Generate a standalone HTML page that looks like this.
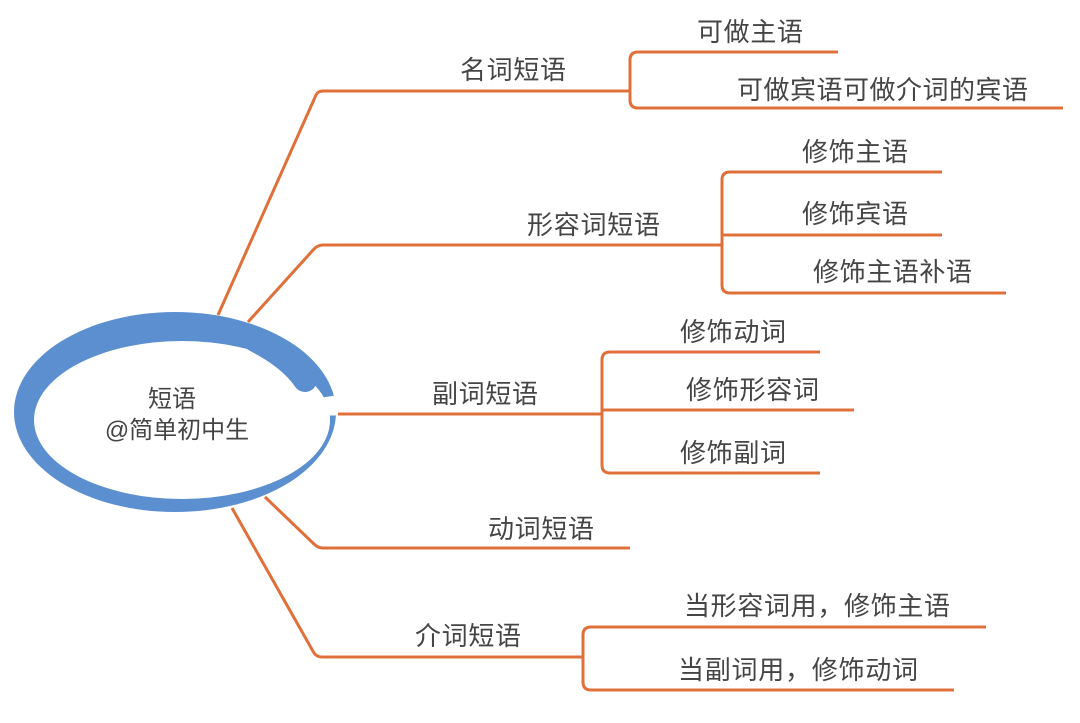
<!DOCTYPE html>
<html><head><meta charset="utf-8"><style>
html,body{margin:0;padding:0;background:#fff;}
svg text{font-family:"Liberation Sans","Noto Sans CJK SC",sans-serif;fill:#454545;}
</style></head><body>
<svg width="1080" height="718" viewBox="0 0 1080 718" xmlns="http://www.w3.org/2000/svg">
<ellipse cx="175" cy="412" rx="161" ry="100" fill="#5b8fd0"/>
<ellipse cx="182" cy="420" rx="148" ry="79" fill="#fff"/>
<polygon points="184,418 420,383 420,414" fill="#fff"/>
<path d="M255,340 Q290,358 305,380" fill="none" stroke="#5b8fd0" stroke-width="24" stroke-linecap="round"/>
<g fill="none" stroke="#e0703a" stroke-width="3" stroke-linejoin="round">
<path d="M218,315 L316,95 Q318,91 323,91 L630,91"/>
<path d="M838,52 L638,52 Q630,52 630,60 L630,100 Q630,108 638,108 L1063,108"/>
<path d="M248,322 L314,249 Q318,245 323,245 L722,245"/>
<path d="M942,172 L730,172 Q722,172 722,180 L722,285 Q722,293 730,293 L1006,293"/>
<path d="M722,235 L942,235"/>
<path d="M338,414 L602,414"/>
<path d="M820,352 L610,352 Q602,352 602,360 L602,465 Q602,473 610,473 L820,473"/>
<path d="M602,410 L854,410"/>
<path d="M265,497 L314,544 Q318,548 323,548 L630,548"/>
<path d="M232,508 L314,653 Q317,657 322,657 L583,657"/>
<path d="M986,627 L591,627 Q583,627 583,635 L583,682 Q583,690 591,690 L954,690"/>
</g>
<text x="172" y="407" font-size="24" text-anchor="middle">短语</text>
<text x="177" y="438" font-size="24" text-anchor="middle">@简单初中生</text>
<g font-size="26">
<text x="460" y="79" textLength="106">名词短语</text>
<text x="697" y="41" textLength="106">可做主语</text>
<text x="737" y="99" textLength="291">可做宾语可做介词的宾语</text>
<text x="527" y="234" textLength="133">形容词短语</text>
<text x="802" y="161" textLength="106">修饰主语</text>
<text x="802" y="223" textLength="106">修饰宾语</text>
<text x="813" y="281" textLength="159">修饰主语补语</text>
<text x="432" y="403" textLength="106">副词短语</text>
<text x="680" y="341" textLength="106">修饰动词</text>
<text x="686" y="399" textLength="133">修饰形容词</text>
<text x="680" y="462" textLength="106">修饰副词</text>
<text x="488" y="538" textLength="106">动词短语</text>
<text x="415" y="645" textLength="106">介词短语</text>
<text x="684" y="615" textLength="266">当形容词用，修饰主语</text>
<text x="678" y="679" textLength="240">当副词用，修饰动词</text>
</g>
</svg>
</body></html>
